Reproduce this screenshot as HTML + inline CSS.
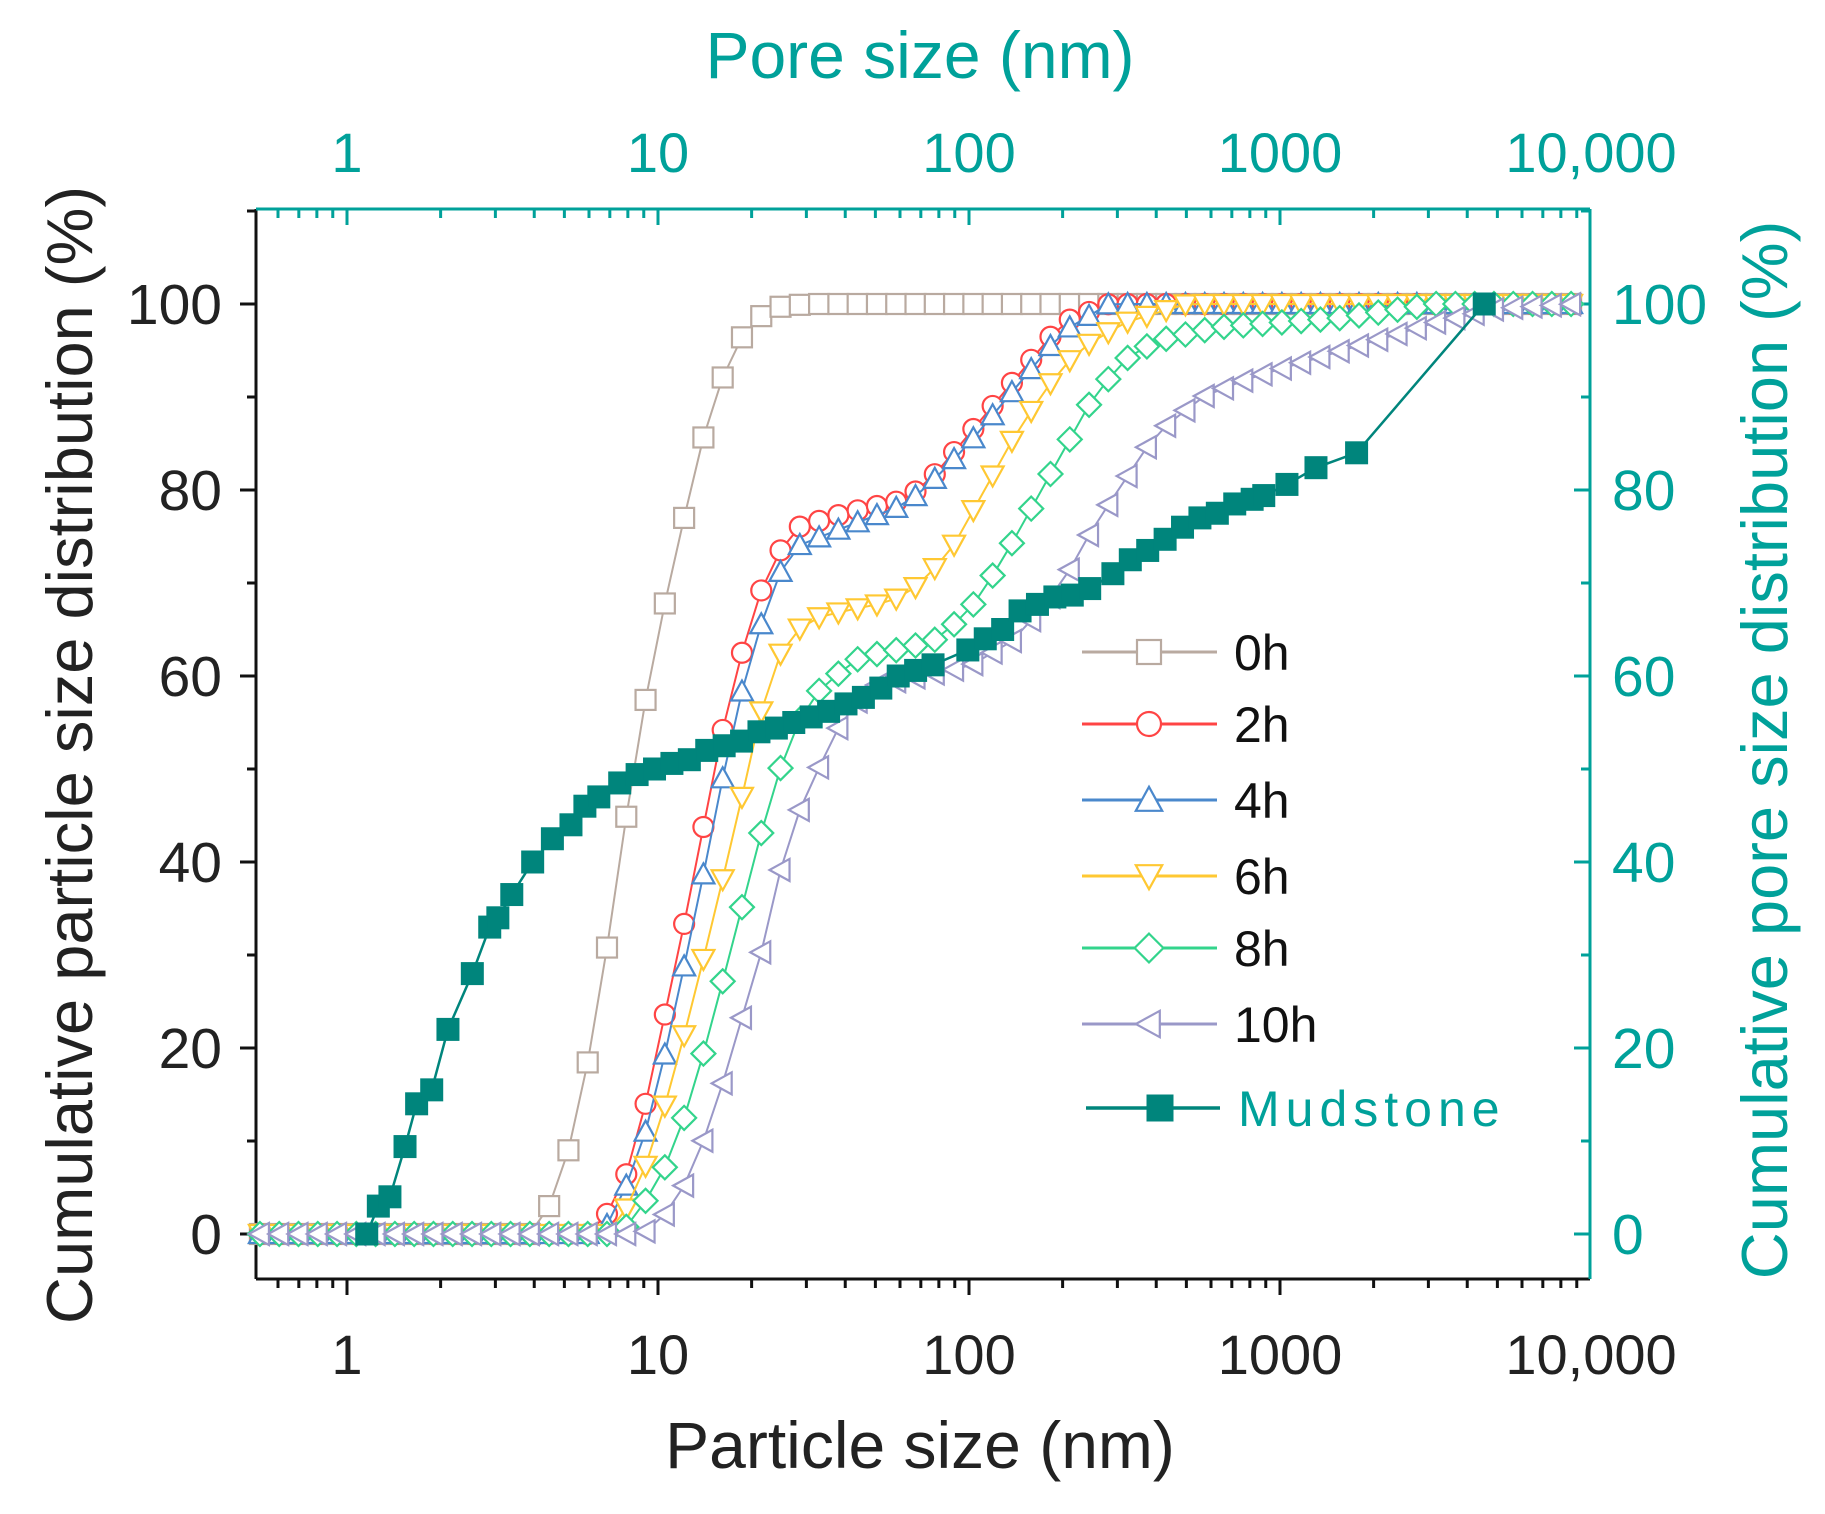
<!DOCTYPE html>
<html><head><meta charset="utf-8"><style>
html,body{margin:0;padding:0;background:#fff;}
svg{display:block;font-family:"Liberation Sans",Arial,sans-serif;}
</style></head><body>
<svg id="c" width="1825" height="1514" viewBox="0 0 1825 1514" xmlns="http://www.w3.org/2000/svg"></svg>
<script>
const S=document.getElementById('c');const NS='http://www.w3.org/2000/svg';
function el(t,a,txt){const e=document.createElementNS(NS,t);for(const k in a)e.setAttribute(k,a[k]);if(txt!==undefined)e.textContent=txt;S.appendChild(e);return e;}
const L=256,R=1590,T=209,B=1279;
const X=l=>347+l*311;const Y=p=>1234-p*9.3;
const TEAL='#00a19a',DT='#00857c';
el('line',{x1:L,y1:T,x2:L,y2:B,stroke:'#111','stroke-width':3});
el('line',{x1:L,y1:B,x2:R,y2:B,stroke:'#111','stroke-width':3});
el('line',{x1:L,y1:T,x2:R,y2:T,stroke:TEAL,'stroke-width':3});
el('line',{x1:R,y1:T,x2:R,y2:B,stroke:TEAL,'stroke-width':3});
for(let d=-1;d<4;d++){for(let m=1;m<10;m++){const l=d+Math.log10(m);if(l<-0.3||l>4)continue;const x=X(l);const maj=m==1;
el('line',{x1:x,y1:B,x2:x,y2:B+(maj?16:9),stroke:'#111','stroke-width':3});
el('line',{x1:x,y1:T,x2:x,y2:T+(maj?16:9),stroke:TEAL,'stroke-width':3});}}
const xl=['1','10','100','1000','10,000'];
xl.forEach((t,i)=>{el('text',{x:X(i),y:1374,'font-size':56,'text-anchor':'middle',fill:'#222'},t);
el('text',{x:X(i),y:172,'font-size':56,'text-anchor':'middle',fill:TEAL},t);});
for(let p=0;p<=110;p+=10){const y=Y(p);const maj=p%20==0;
el('line',{x1:L,y1:y,x2:L-(maj?16:9),y2:y,stroke:'#111','stroke-width':3});
el('line',{x1:R,y1:y,x2:R-(maj?16:9),y2:y,stroke:TEAL,'stroke-width':3});
if(maj){el('text',{x:222,y:y+20,'font-size':57,'text-anchor':'end',fill:'#222'},p);
el('text',{x:1612,y:y+20,'font-size':57,'text-anchor':'start',fill:TEAL},p);}}
el('text',{x:920,y:78,'font-size':66,'text-anchor':'middle',fill:TEAL},'Pore size (nm)');
el('text',{x:920,y:1468,'font-size':66,'text-anchor':'middle',fill:'#222'},'Particle size (nm)');
el('text',{x:0,y:0,'font-size':65,'text-anchor':'middle',fill:'#222',transform:'translate(92,755) rotate(-90)'},'Cumulative particle size distribution (%)');
el('text',{x:0,y:0,'font-size':65,'text-anchor':'middle',fill:TEAL,transform:'translate(1787,750) rotate(-90)'},'Cumulative pore size distribution (%)');
function interp(pts,l){if(l<=pts[0][0])return pts[0][1];for(let i=1;i<pts.length;i++){if(l<=pts[i][0]){const a=pts[i-1],b=pts[i];return a[1]+(b[1]-a[1])*(l-a[0])/(b[0]-a[0]);}}return pts[pts.length-1][1];}
function marker(type,x,y,c,s){s=s||10;
if(type=='sq')el('rect',{x:x-s,y:y-s,width:2*s,height:2*s,fill:'#fff',stroke:c,'stroke-width':2.2});
else if(type=='ci')el('circle',{cx:x,cy:y,r:s,fill:'#fff',stroke:c,'stroke-width':2.2});
else if(type=='up')el('polygon',{points:`${x},${y-s*1.1} ${x-s*1.1},${y+s*0.9} ${x+s*1.1},${y+s*0.9}`,fill:'#fff',stroke:c,'stroke-width':2.2});
else if(type=='dn')el('polygon',{points:`${x},${y+s*1.1} ${x-s*1.1},${y-s*0.9} ${x+s*1.1},${y-s*0.9}`,fill:'#fff',stroke:c,'stroke-width':2.2});
else if(type=='di')el('polygon',{points:`${x},${y-s*1.2} ${x+s*1.2},${y} ${x},${y+s*1.2} ${x-s*1.2},${y}`,fill:'#fff',stroke:c,'stroke-width':2.2});
else if(type=='le')el('polygon',{points:`${x-s*1.1},${y} ${x+s*0.9},${y-s*1.1} ${x+s*0.9},${y+s*1.1}`,fill:'#fff',stroke:c,'stroke-width':2.2});
else if(type=='fs')el('rect',{x:x-s,y:y-s,width:2*s,height:2*s,fill:DT,stroke:DT,'stroke-width':1});}
const series=[
['#b9aaa0','sq',[[-0.3,0],[0.6,0],[0.62,1],[0.68,5],[0.74,12.5],[0.8,23],[0.86,36],[0.92,50],[0.99,63],[1.07,75],[1.14,85],[1.2,91.5],[1.26,96],[1.32,98.5],[1.4,99.8],[1.5,100],[3.95,100]]],
['#ff4444','ci',[[-0.3,0],[0.8,0],[0.85,3],[0.92,8],[0.98,17],[1.05,28],[1.12,39],[1.18,50],[1.24,59],[1.3,66],[1.36,72],[1.45,76],[1.6,77.5],[1.8,79],[1.9,82],[2.0,86],[2.1,90],[2.2,94],[2.3,98],[2.45,100],[3.95,100]]],
['#4a88cc','up',[[-0.3,0],[0.82,0],[0.87,3],[0.94,8.5],[1.0,16],[1.06,25],[1.13,36],[1.19,46],[1.25,56],[1.31,63],[1.37,70],[1.45,74],[1.6,76],[1.8,78.5],[1.9,81.5],[2.0,85],[2.1,89],[2.2,93],[2.3,97],[2.45,100],[3.95,100]]],
['#ffc832','dn',[[-0.3,0],[0.85,0],[0.92,4],[0.98,9],[1.05,17],[1.12,26],[1.2,37],[1.27,47],[1.33,56],[1.4,63],[1.48,66],[1.6,67],[1.75,68],[1.85,70],[1.95,74],[2.05,80],[2.15,86],[2.25,91],[2.35,95],[2.5,98],[2.7,100],[3.95,100]]],
['#33d48c','di',[[-0.3,0],[0.88,0],[0.95,3],[1.02,7],[1.09,13],[1.16,21],[1.23,30],[1.3,39],[1.37,48],[1.45,55],[1.53,59],[1.65,62],[1.8,63],[1.9,64],[2.0,67],[2.1,72],[2.2,78],[2.3,84],[2.4,90],[2.5,94],[2.6,96],[2.8,97.5],[3.2,98.5],[3.5,100],[3.95,100]]],
['#9a98c8','le',[[-0.3,0],[0.95,0],[1.02,2],[1.1,6],[1.18,13],[1.25,21],[1.33,30],[1.4,40],[1.48,48],[1.55,52],[1.6,56],[1.7,59],[1.85,60],[2.0,61],[2.15,64],[2.3,70],[2.4,76],[2.5,81],[2.6,86],[2.75,90],[2.9,92],[3.1,94],[3.3,96],[3.5,98],[3.7,99.5],[3.95,100]]]];
series.forEach(([c,t,pts])=>{const mk=[];for(let l=-0.28;l<=3.95;l+=0.062)mk.push([l,interp(pts,l)]);
el('polyline',{points:mk.map(p=>X(p[0])+','+Y(p[1])).join(' '),fill:'none',stroke:c,'stroke-width':2});
mk.forEach(p=>marker(t,X(p[0]),Y(p[1]),c,10));});
const md=[[312,0],[322,3],[332,4],[345,9.4],[355,14],[368,15.5],[382,22],[403,28],[418,33],[425,34],[437,36.5],[455,40],[472,42.5],[488,44],[500,46],[512,47],[530,48.5],[545,49.4],[560,50],[575,50.6],[590,51],[605,52],[620,52.5],[635,53],[650,54],[665,54.4],[680,55],[695,55.6],[710,56.2],[725,57],[740,57.7],[755,58.7],[770,60],[785,60.6],[800,61.2],[830,62.8],[845,64],[860,65],[875,67],[890,67.7],[905,68.5],[920,68.7],[935,69.4],[955,71],[970,72.5],[985,73.5],[1000,74.7],[1015,76],[1030,77],[1045,77.5],[1060,78.5],[1075,79],[1085,79.4],[1105,80.6],[1130,82.4],[1165,84],[1275,100]];
const mp=md.map(p=>[X((p[0]-295)/268),Y(p[1])]);
el('polyline',{points:mp.map(p=>p.join(',')).join(' '),fill:'none',stroke:DT,'stroke-width':2.5});
mp.forEach(p=>marker('fs',p[0],p[1],DT,11));
const lg=[['0h','#b9aaa0','sq',652],['2h','#ff4444','ci',724],['4h','#4a88cc','up',800],['6h','#ffc832','dn',876],['8h','#33d48c','di',948],['10h','#9a98c8','le',1024]];
lg.forEach(([t,c,m,y])=>{el('line',{x1:1082,y1:y,x2:1217,y2:y,stroke:c,'stroke-width':3});marker(m,1149,y,c,12);
el('text',{x:1234,y:y+18,'font-size':50,fill:'#111'},t);});
el('line',{x1:1086,y1:1108,x2:1220,y2:1108,stroke:DT,'stroke-width':3.5});marker('fs',1160,1108,DT,13);
el('text',{x:1238,y:1126,'font-size':50,fill:TEAL,'letter-spacing':'6'},'Mudstone');
</script>
</body></html>
